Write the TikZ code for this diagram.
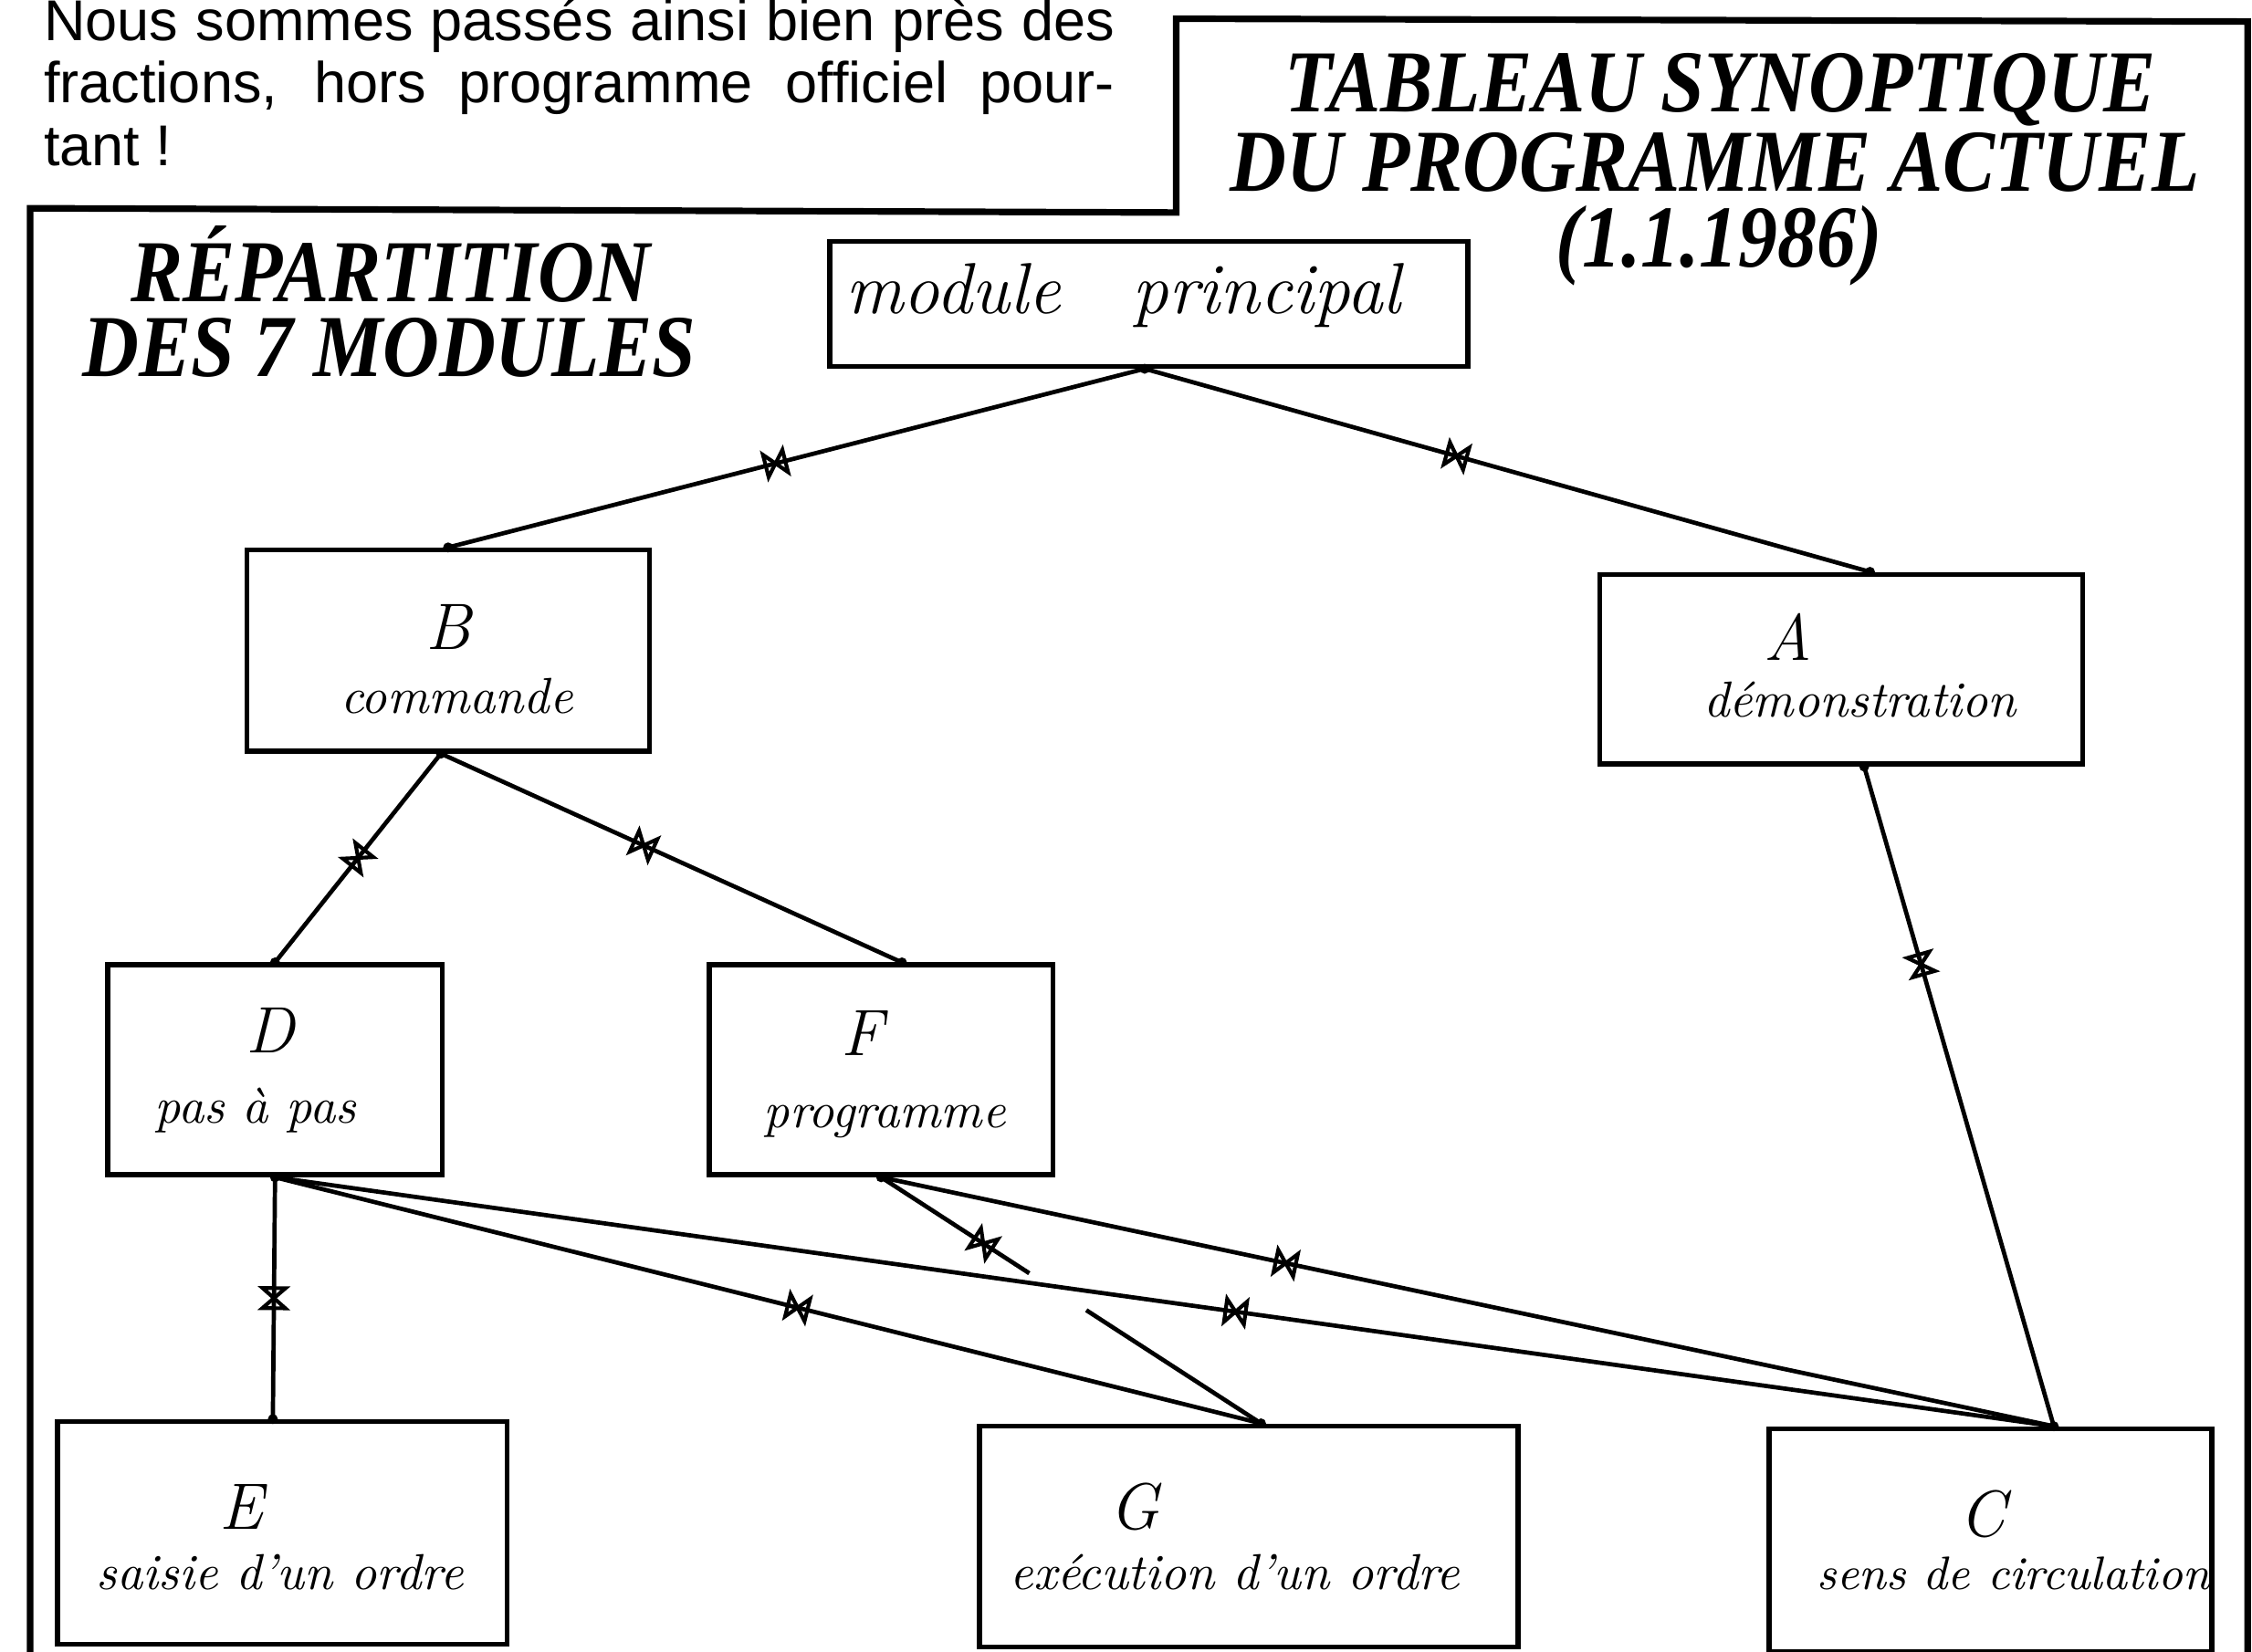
\documentclass[tikz,border=0pt]{standalone}
\usepackage{fontspec}
\usetikzlibrary{decorations.markings,calc}
\newfontfamily\introfont{Liberation Sans}
\newfontfamily\titlefont[FakeStretch=0.885]{Liberation Serif}
\begin{document}
\begin{tikzpicture}[x=0.01cm,y=-0.01cm,
  frame/.style={line width=1.3pt},
  boxnode/.style={draw,line width=1pt,inner sep=0pt},
  letternode/.style={anchor=base,inner sep=0pt,font=\fontsize{13}{13}\selectfont\itshape},
  descnode/.style={anchor=base,inner sep=0pt,font=\fontsize{10}{12}\selectfont\itshape},
  titlenode/.style={anchor=base,inner sep=0pt,text height=0.68em,text depth=0.12em,
    font=\titlefont\bfseries\itshape\fontsize{17.5}{17.5}\selectfont},
  conn/.style={line width=0.85pt},
  bow/.style={postaction={decorate},decoration={markings,mark=at position #1 with {\draw[line width=0.75pt,line join=miter] (-7,-8)--(7,8)--(7,-8)--(-7,8)--cycle;}}},
  enddot/.style={fill=black}
]
\useasboundingbox (0,0) rectangle (1568,1150);

% intro text (cut at the top)
\node[anchor=base west,inner sep=0pt,text width=7.45cm,align=justify,font=\introfont\fontsize{11.4}{12.4}\selectfont] (intro) at (30,28)
  {Nous sommes passés ainsi bien près des\linebreak fractions, hors programme officiel pour-\linebreak tant !};

% frame
\draw[frame] (21,1165) -- (21,145) -- (819,148) -- (819,13) -- (1565,15) -- (1565,1165);

% titles
\node[titlenode] (t1) at (1198,78) {TABLEAU SYNOPTIQUE};
\node[titlenode] (t2) at (1194,133) {DU PROGRAMME ACTUEL};
\node[titlenode] (t3) at (1197,186) {(1.1.1986)};
\node[titlenode] (r1) at (272,210) {RÉPARTITION};
\node[titlenode] (r2) at (271,262) {DES 7 MODULES};

% boxes
\node[boxnode,minimum width=4.44cm,minimum height=0.87cm] (P) at (800,211.5) {};
\node[anchor=base,inner sep=0pt,font=\fontsize{14.3}{14.3}\selectfont\itshape] (Pt) at (782,218) {module\quad principal};

\node[boxnode,minimum width=2.80cm,minimum height=1.40cm] (B) at (312,453) {};
\node[letternode] (Bl) at (312,452) {B};
\node[descnode] (Bd) at (318,497) {commande};

\node[boxnode,minimum width=3.36cm,minimum height=1.32cm] (A) at (1282,466) {};
\node[letternode] (Al) at (1245,460) {A};
\node[descnode] (Ad) at (1295,499) {démonstration};

\node[boxnode,minimum width=2.33cm,minimum height=1.46cm] (D) at (191.5,745) {};
\node[letternode] (Dl) at (188,733) {D};
\node[descnode] (Dd) at (178,782) {pas à pas};

\node[boxnode,minimum width=2.39cm,minimum height=1.46cm] (F) at (613.5,745) {};
\node[letternode] (Fl) at (600,735) {F};
\node[descnode] (Fd) at (616,785) {programme};

\node[boxnode,minimum width=3.13cm,minimum height=1.55cm] (E) at (196.5,1067.5) {};
\node[letternode] (El) at (168,1065) {E};
\node[descnode] (Ed) at (195,1107) {saisie d'un ordre};

\node[boxnode,minimum width=3.75cm,minimum height=1.54cm] (G) at (869.5,1070) {};
\node[letternode] (Gl) at (790,1065) {G};
\node[descnode] (Gd) at (860,1107) {exécution d'un ordre};

\node[boxnode,minimum width=3.08cm,minimum height=1.55cm] (C) at (1386,1072.5) {};
\node[letternode] (Cl) at (1380,1070) {C};
\node[descnode,font=\fontsize{9.3}{12}\selectfont\itshape] (Cd) at (1402,1107) {sens de circulation};

% anchor points
\coordinate (Pb) at ([xshift=-0.03cm]P.south);
\coordinate (Bt) at (B.north);
\coordinate (Bb) at ([xshift=-0.05cm]B.south);
\coordinate (At) at ([xshift=0.2cm]A.north);
\coordinate (Ab) at ([xshift=0.16cm]A.south);
\coordinate (Dt) at (D.north);
\coordinate (Db) at (D.south);
\coordinate (Ft) at ([xshift=0.145cm]F.north);
\coordinate (Fb) at (F.south);
\coordinate (Et) at ([xshift=-0.065cm]E.north);
\coordinate (Gt) at ([xshift=0.085cm]G.north);
\coordinate (Ct) at ([xshift=0.44cm]C.north);

% connectors
\draw[conn,bow=0.53] (Pb) -- (Bt);
\draw[conn,bow=0.43] (Pb) -- (At);
\draw[conn,bow=0.5] (Bb) -- (Dt);
\draw[conn,bow=0.44] (Bb) -- (Ft);
\draw[conn,bow=0.3] (Ab) -- (Ct);
\draw[conn,bow=0.5] (Db) -- (Et);
\draw[conn,bow=0.53] (Db) -- (Gt);
\draw[conn,bow=0.54] (Db) -- (Ct);
\draw[conn,bow=0.345] (Fb) -- (Ct);
\draw[conn,bow=0.69] (Fb) -- ($(Fb)!0.39!(Gt)$);
\draw[conn] ($(Fb)!0.54!(Gt)$) -- (Gt);

% end dots
\foreach \p in {Pb,Bt,Bb,At,Ab,Dt,Db,Ft,Fb,Et,Gt,Ct}
  \fill[enddot] (\p) circle (3.5);
\end{tikzpicture}
\end{document}
